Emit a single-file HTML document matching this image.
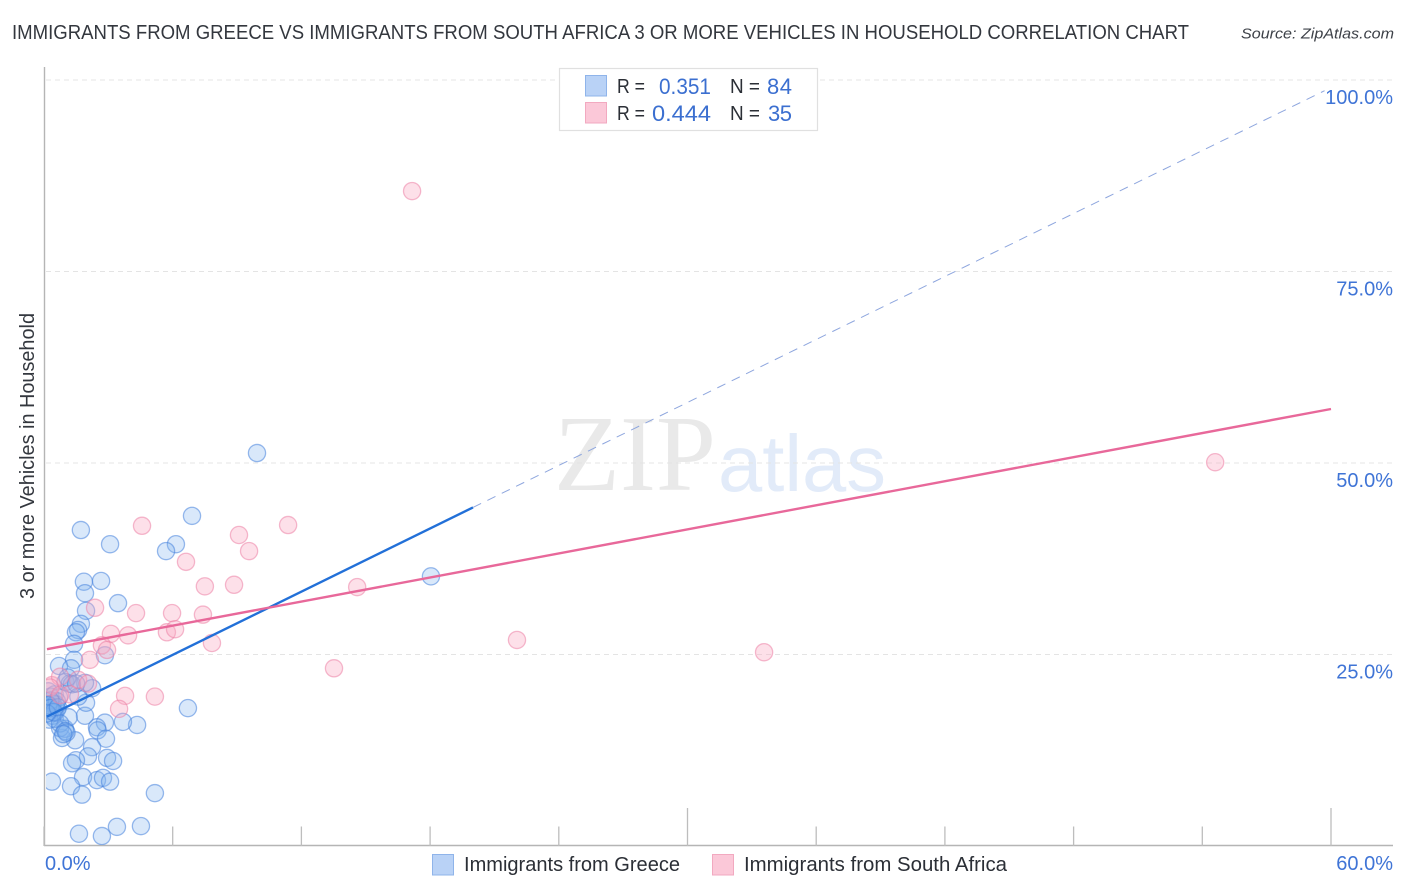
<!DOCTYPE html>
<html lang="en">
<head>
<meta charset="utf-8">
<title>Immigrants from Greece vs Immigrants from South Africa correlation chart</title>
<style>
html,body{margin:0;padding:0;background:#fff;}
svg{display:block;font-family:"Liberation Sans",sans-serif;}
</style>
</head>
<body>
<svg id="chart" width="1406" height="892" viewBox="0 0 1406 892" xmlns="http://www.w3.org/2000/svg">
  <defs>
    <clipPath id="plot-clip"><rect x="46" y="60" width="1350" height="785"/></clipPath>
  </defs>
  <text x="12" y="39" font-size="20" fill="#33373e" textLength="1177" lengthAdjust="spacingAndGlyphs">IMMIGRANTS FROM GREECE VS IMMIGRANTS FROM SOUTH AFRICA 3 OR MORE VEHICLES IN HOUSEHOLD CORRELATION CHART</text>
  <text x="1241" y="38.5" font-size="15" font-style="italic" fill="#3d4148" textLength="153" lengthAdjust="spacingAndGlyphs">Source: ZipAtlas.com</text>

  <g id="watermark">
    <text x="554" y="490" font-family="'Liberation Serif',serif" font-size="108" fill="#e9e9e9" textLength="162" lengthAdjust="spacingAndGlyphs">ZIP</text>
    <text x="718" y="491" font-size="80" fill="#e2ebf9" textLength="168" lengthAdjust="spacingAndGlyphs">atlas</text>
  </g>

  <g id="grid"></g>
  <g id="axes"></g>
  <g id="points" clip-path="url(#plot-clip)"></g>
  <g id="trends"></g>
  <g id="labels"></g>

  <text transform="translate(34 456) rotate(-90)" text-anchor="middle" font-size="20" fill="#33373e" textLength="286" lengthAdjust="spacingAndGlyphs">3 or more Vehicles in Household</text>

  <g>
    <rect x="559.5" y="68.5" width="258" height="62" fill="#fff" stroke="#e0e0e0" stroke-width="1.2"/>
    <rect x="585.5" y="75.5" width="21" height="20.5" fill="#b9d2f6" stroke="#8fb4ea"/>
    <text x="617" y="93" font-size="20" fill="#2b2f36" textLength="28" lengthAdjust="spacingAndGlyphs">R =</text>
    <text x="659" y="94" font-size="22" fill="#3b6fd0" textLength="52" lengthAdjust="spacingAndGlyphs">0.351</text>
    <text x="730" y="93" font-size="20" fill="#2b2f36" textLength="30" lengthAdjust="spacingAndGlyphs">N =</text>
    <text x="767" y="94" font-size="22" fill="#3b6fd0" textLength="25">84</text>
    <rect x="585.5" y="102.5" width="21" height="20.5" fill="#fbc8d8" stroke="#f2a9c0"/>
    <text x="617" y="120" font-size="20" fill="#2b2f36" textLength="28" lengthAdjust="spacingAndGlyphs">R =</text>
    <text x="652" y="121" font-size="22" fill="#3b6fd0" textLength="59" lengthAdjust="spacingAndGlyphs">0.444</text>
    <text x="730" y="120" font-size="20" fill="#2b2f36" textLength="30" lengthAdjust="spacingAndGlyphs">N =</text>
    <text x="768" y="121" font-size="22" fill="#3b6fd0" textLength="24">35</text>
  </g>

  <g>
    <rect x="432.5" y="854.5" width="21" height="20.5" fill="#b9d2f6" stroke="#8fb4ea"/>
    <text x="464" y="871" font-size="20" fill="#2b2f36" textLength="216" lengthAdjust="spacingAndGlyphs">Immigrants from Greece</text>
    <rect x="712.5" y="854.5" width="21" height="20.5" fill="#fbc8d8" stroke="#f2a9c0"/>
    <text x="744" y="871" font-size="20" fill="#2b2f36" textLength="263" lengthAdjust="spacingAndGlyphs">Immigrants from South Africa</text>
  </g>
</svg>

<script>
var greeceX = [9.93,6.9,1.72,3.08,6.15,5.69,1.86,2.66,1.91,3.45,1.96,1.72,1.59,1.49,1.4,2.84,1.4,0.7,1.26,18.04,6.71,4.34,3.68,2.84,2.47,2.5,1.91,1.96,2.24,1.91,2.89,2.24,2.05,1.45,0.84,0.98,0.75,2.94,3.22,1.49,1.31,1.82,2.47,2.75,3.08,0.37,1.26,1.77,5.17,1.63,2.7,3.4,4.52,0.2,0.3,0.35,0.3,0.4,0.5,0.55,0.6,0.5,0.25,0.7,0.4,1.0,0.5,0.6,1.2,1.3,1.1,0.3,0.2,0.3,0.45,0.15,0.65,1.15,0.75,1.0,1.05,0.9,1.6,1.5];
var greeceY = [51.3,43.1,41.25,39.4,39.4,38.5,34.5,34.6,33.0,31.7,30.7,29.0,28.2,27.9,26.4,24.9,24.3,23.5,23.2,35.2,18.0,15.8,16.2,16.1,15.5,15.1,17.0,18.7,20.6,21.3,14.0,12.9,11.7,13.8,14.1,15.3,15.4,11.5,11.1,11.2,10.8,9.0,8.6,8.9,8.4,8.4,7.8,6.7,6.9,1.6,1.3,2.5,2.6,20.2,19.5,18.2,17.6,17.0,19.8,18.5,17.8,16.6,16.5,19.4,18.6,21.4,17.4,18.9,21.2,21.1,22.0,19.0,18.4,18.0,17.5,17.3,18.1,16.8,16.0,15.0,14.8,14.6,19.5,21.2];
var africaX = [17.16,54.6,4.57,9.09,11.38,9.56,6.62,7.5,8.86,14.6,2.38,4.29,5.97,7.41,3.12,3.92,5.73,6.11,22.05,7.83,2.7,2.94,2.14,33.57,13.52,3.78,5.17,3.5,0.37,0.75,1.59,2.05,1.21,0.28,0.75];
var africaY = [85.5,50.1,41.8,40.6,41.9,38.5,37.1,33.9,34.1,33.8,31.1,30.4,30.4,30.2,27.7,27.5,27.9,28.3,26.9,26.5,26.2,25.6,24.3,25.3,23.2,19.6,19.5,17.9,21.0,22.1,21.7,21.2,19.8,20.7,19.7];
var greeceSolidTrendX = [0.14,20.0];
var greeceSolidTrendY = [16.9,44.2];
var greeceDashedTrendX = [20.0,59.7];
var greeceDashedTrendY = [44.2,98.6];
var africaTrendX = [0.14,60.0];
var africaTrendY = [25.7,57.05];
var yTickValues = [25,50,75,100];
var yTickLabels = ['25.0%','50.0%','75.0%','100.0%'];
var xTickValues = [0,6,12,18,24,30,36,42,48,54,60];
var xMajorTicks = [30,60];
var xEndValues = [0,60];
var xEndLabels = ['0.0%','60.0%'];

var NS = 'http://www.w3.org/2000/svg';
function xScale(v){ return 44 + v * (1331 - 44) / 60; }
function yScale(v){ return 846 - v * (846 - 80) / 100; }
function make(tag, parent){
  var el = document.createElementNS(NS, tag);
  document.getElementById(parent).appendChild(el);
  return el;
}

yTickValues.forEach(function(v){
  var g = make('line','grid');
  
  
  g.setAttribute('x1', 46);
  g.setAttribute('x2', 1393);
  g.setAttribute('y1', yScale(v));
  g.setAttribute('y2', yScale(v));
  g.setAttribute('stroke', '#e4e4e4');
  g.setAttribute('stroke-width', '1');
  g.setAttribute('stroke-dasharray', '5 4');
});

var yAxis = make('line','axes');


yAxis.setAttribute('x1', 44.5);
yAxis.setAttribute('x2', 44.5);
yAxis.setAttribute('y1', 67);
yAxis.setAttribute('y2', 846);
yAxis.setAttribute('stroke', '#b5b5b5');
yAxis.setAttribute('stroke-width', '1.4');

var xAxis = make('line','axes');


xAxis.setAttribute('x1', 44);
xAxis.setAttribute('x2', 1393);
xAxis.setAttribute('y1', 845.5);
xAxis.setAttribute('y2', 845.5);
xAxis.setAttribute('stroke', '#b5b5b5');
xAxis.setAttribute('stroke-width', '1.4');

xTickValues.forEach(function(v){
  var t = make('line','axes');
  var major = xMajorTicks.indexOf(v) >= 0;
  
  
  t.setAttribute('x1', xScale(v));
  t.setAttribute('x2', xScale(v));
  t.setAttribute('y1', major ? 808 : 826.5);
  t.setAttribute('y2', 846);
  t.setAttribute('stroke', '#bdbdbd');
  t.setAttribute('stroke-width', '1.3');
});

greeceX.forEach(function(v,i){
  var c = make('circle','points');
  
  
  c.setAttribute('cx', xScale(v));
  c.setAttribute('cy', yScale(greeceY[i]));
  c.setAttribute('r', 8.6);
  c.setAttribute('fill', 'rgba(130,178,240,0.3)');
  c.setAttribute('stroke', 'rgba(70,130,220,0.55)');
  c.setAttribute('stroke-width', '1.3');
});

africaX.forEach(function(v,i){
  var c = make('circle','points');
  
  
  c.setAttribute('cx', xScale(v));
  c.setAttribute('cy', yScale(africaY[i]));
  c.setAttribute('r', 8.6);
  c.setAttribute('fill', 'rgba(249,170,195,0.36)');
  c.setAttribute('stroke', 'rgba(236,130,165,0.55)');
  c.setAttribute('stroke-width', '1.3');
});

var gs = make('line','trends');


gs.setAttribute('x1', xScale(greeceSolidTrendX[0]));
gs.setAttribute('y1', yScale(greeceSolidTrendY[0]));
gs.setAttribute('x2', xScale(greeceSolidTrendX[1]));
gs.setAttribute('y2', yScale(greeceSolidTrendY[1]));
gs.setAttribute('stroke', '#2270d8');
gs.setAttribute('stroke-width', '2.4');

var gd = make('line','trends');


gd.setAttribute('x1', xScale(greeceDashedTrendX[0]));
gd.setAttribute('y1', yScale(greeceDashedTrendY[0]));
gd.setAttribute('x2', xScale(greeceDashedTrendX[1]));
gd.setAttribute('y2', yScale(greeceDashedTrendY[1]));
gd.setAttribute('stroke', '#8ea6de');
gd.setAttribute('stroke-width', '1');
gd.setAttribute('stroke-dasharray', '9 7');

var at = make('line','trends');


at.setAttribute('x1', xScale(africaTrendX[0]));
at.setAttribute('y1', yScale(africaTrendY[0]));
at.setAttribute('x2', xScale(africaTrendX[1]));
at.setAttribute('y2', yScale(africaTrendY[1]));
at.setAttribute('stroke', '#e8689a');
at.setAttribute('stroke-width', '2.4');

yTickValues.forEach(function(v,i){
  var t = make('text','labels');
  
  
  t.setAttribute('x', 1393);
  t.setAttribute('y', yScale(v) + 24);
  t.setAttribute('text-anchor', 'end');
  t.setAttribute('font-size', '20');
  t.setAttribute('fill', '#3f74d6');
  t.textContent = yTickLabels[i];
});

xEndValues.forEach(function(v,i){
  var t = make('text','labels');
  
  
  t.setAttribute('x', i === 0 ? xScale(v) + 1 : 1393);
  t.setAttribute('y', 870);
  t.setAttribute('text-anchor', i === 0 ? 'start' : 'end');
  t.setAttribute('font-size', '20');
  t.setAttribute('fill', '#3f74d6');
  t.textContent = xEndLabels[i];
});
</script>
</body>
</html>
